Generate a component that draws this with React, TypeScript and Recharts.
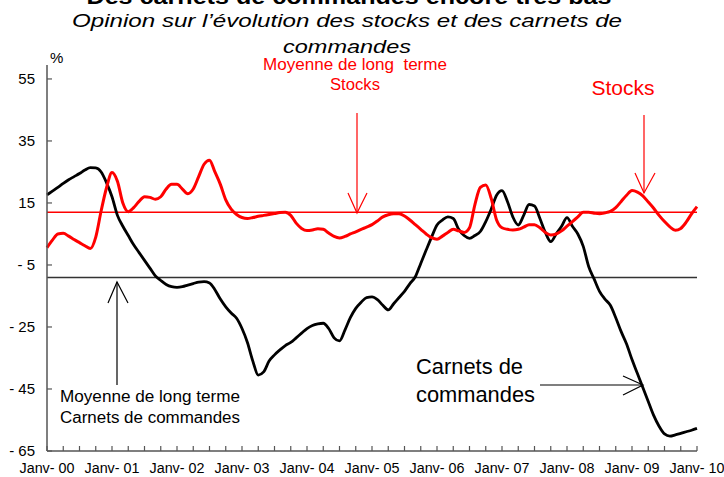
import React from 'react';
import { LineChart, Line, XAxis, YAxis, ReferenceLine } from 'recharts';

const yearLabels = ['Janv- 00', 'Janv- 01', 'Janv- 02', 'Janv- 03', 'Janv- 04', 'Janv- 05', 'Janv- 06', 'Janv- 07', 'Janv- 08', 'Janv- 09', 'Janv- 10'];

const carnets = [
  17.6, 18.8, 20, 21.3, 22.5, 23.5, 24.5, 25.6, 26.4, 26.3, 25, 21.5,
  17, 11, 7.5, 4.5, 1.5, -1, -3.5, -6, -8.5, -10, -11.3, -12,
  -12.2, -12, -11.5, -11, -10.5, -10.4, -10.8, -13, -16, -18.5, -20.5, -22.2,
  -25.5, -30, -36, -40.5, -39.5, -36, -34, -32.4, -31, -30, -28.5, -27,
  -25.5, -24.5, -24, -23.8, -25.5, -28.5, -29.5, -26, -22, -19, -17, -15.5,
  -15.3, -16.2, -18, -19.5, -17.5, -15.5, -13.5, -11, -8.8, -4.5, -0.2, 4,
  7.9, 9.5, 10.5, 10, 6.5, 4.5, 3.6, 4.5, 5.8, 9, 13, 17.5,
  19, 15.5, 10.5, 7.9, 11, 14.5, 14, 10, 5.5, 2.5, 5, 7.5,
  10.3, 7.5, 5, 1, -5.5, -9.5, -13.5, -16, -18, -22, -26.5, -30.5,
  -35.5, -40, -44.5, -49, -53.5, -57, -59.5, -60.2, -59.8, -59.3, -58.8, -58.3,
  -57.7,
];

const stocks = [
  0.6, 3, 5, 5.2, 4.3, 3.2, 2.2, 1.2, 0.3, 4, 12.5, 20,
  24.8, 22, 15, 12.2, 13.5, 15.5, 17, 16.8, 16.2, 17, 19.5, 21,
  21, 19.5, 18, 19.5, 23.5, 27.5, 28.8, 25, 21, 16, 13, 11.3,
  10.3, 10, 10.3, 10.7, 11, 11.3, 11.6, 11.9, 12, 11, 8.5, 6.8,
  6.1, 6.3, 6.7, 6.5, 5.3, 4.2, 3.7, 4.2, 5, 5.7, 6.5, 7.2,
  8, 9.2, 10.5, 11.2, 11.5, 11.5, 10.8, 9.5, 8, 6.5, 5, 3.8,
  3.3, 4.3, 5.5, 6.5, 6, 5.5, 7, 14.5, 20, 20.8, 16.5, 9.5,
  7, 6.5, 6.3, 6.5, 7.2, 8, 8, 7, 5.5, 4.7, 5, 6,
  7.5, 9, 10.5, 12, 12, 11.7, 11.5, 11.8, 12.3, 13.5, 15.5, 17.5,
  19, 18.5, 17.3, 15.3, 13.3, 11, 9, 7.3, 6.2, 6.8, 8.8, 11.5,
  13.8,
];

const moyenneStocks = 12;
const moyenneCarnets = -9;
const yTicks = [55, 35, 15, -5, -25, -45, -65];
const xTicks = Array.from({ length: 41 }, (_, i) => i * 3);

const data = carnets.map((c, i) => ({ m: i, carnets: c, stocks: stocks[i] }));

const FONT = '"Liberation Sans", Arial, sans-serif';
const AXIS = '#555';

const XTick = (props: any) => {
  const { x, y, payload } = props;
  const v = payload.value as number;
  const label = v % 12 === 0 ? yearLabels[v / 12] : null;
  return (
    <g>
      <line x1={x} x2={x} y1={y} y2={y - 5} stroke={AXIS} strokeWidth={1.2} />
      {label && (
        <text x={x} y={y + 22} textAnchor="middle" fontSize={14} fill="#000" fontFamily={FONT} textLength={55} lengthAdjust="spacingAndGlyphs">
          {label}
        </text>
      )}
    </g>
  );
};

const YTick = (props: any) => {
  const { x, y, payload } = props;
  const v = payload.value as number;
  const label = v < 0 ? '- ' + Math.abs(v) : String(v);
  return (
    <g>
      <line x1={x} x2={x + 5} y1={y} y2={y} stroke={AXIS} strokeWidth={1.2} />
      <text x={x - 12} y={y + 5} textAnchor="end" fontSize={15} fill="#000" fontFamily={FONT}>
        {label}
      </text>
    </g>
  );
};

export default function App() {
  return (
    <div style={{ position: 'absolute', left: 0, top: 0, width: 724, height: 477, background: '#fff', overflow: 'hidden' }}>
      <LineChart width={724} height={477} data={data} margin={{ top: 65, right: 27, left: 0, bottom: 4 }}>
        <XAxis
          dataKey="m"
          type="number"
          domain={[0, 120]}
          ticks={xTicks}
          interval={0}
          tickSize={0}
          tickMargin={0}
          tickLine={false}
          tick={<XTick />}
          height={22}
          axisLine={{ stroke: AXIS, strokeWidth: 1.5 }}
        />
        <YAxis
          type="number"
          domain={[-65, 59.5]}
          ticks={yTicks}
          interval={0}
          tickSize={0}
          tickMargin={0}
          tickLine={false}
          tick={<YTick />}
          width={47}
          axisLine={{ stroke: AXIS, strokeWidth: 1.5 }}
        />
        <ReferenceLine y={moyenneStocks} stroke="#ff0000" strokeWidth={1.5} />
        <ReferenceLine y={moyenneCarnets} stroke="#333" strokeWidth={1.5} />
        <Line type="monotone" dataKey="carnets" stroke="#000" strokeWidth={2.8} dot={false} isAnimationActive={false} />
        <Line type="monotone" dataKey="stocks" stroke="#ff0000" strokeWidth={3} dot={false} isAnimationActive={false} />
      </LineChart>
      <svg width={724} height={477} style={{ position: 'absolute', left: 0, top: 0, pointerEvents: 'none' }} fontFamily={FONT}>
        <text x={349} y={3.5} textAnchor="middle" fontSize={22} fontWeight="bold" fill="#000" textLength={525} lengthAdjust="spacingAndGlyphs">Des carnets de commandes encore très bas</text>
        <text x={347} y={26.7} textAnchor="middle" fontSize={18.8} fontStyle="italic" fill="#000" textLength={550} lengthAdjust="spacingAndGlyphs">Opinion sur l’évolution des stocks et des carnets de</text>
        <text x={347} y={53} textAnchor="middle" fontSize={18.8} fontStyle="italic" fill="#000" textLength={128} lengthAdjust="spacingAndGlyphs">commandes</text>
        <text x={50} y={63} fontSize={15} fill="#000">%</text>

        <text x={355} y={70} textAnchor="middle" fontSize={16} fill="#ff0000" style={{ whiteSpace: 'pre' }} textLength={184} lengthAdjust="spacingAndGlyphs">Moyenne de long  terme</text>
        <text x={355} y={90} textAnchor="middle" fontSize={16} fill="#ff0000" textLength={50} lengthAdjust="spacingAndGlyphs">Stocks</text>
        <line x1={357} y1={113} x2={357} y2={213} stroke="#ff0000" strokeWidth={1.2} />
        <polyline points="348,193 357,213 367,193" fill="none" stroke="#ff0000" strokeWidth={1.2} />

        <text x={623} y={95} textAnchor="middle" fontSize={20} fill="#ff0000" textLength={63} lengthAdjust="spacingAndGlyphs">Stocks</text>
        <line x1={644} y1={115} x2={644} y2={193} stroke="#ff0000" strokeWidth={1.2} />
        <polyline points="635,173 644,193 655,173" fill="none" stroke="#ff0000" strokeWidth={1.2} />

        <line x1={117} y1={385} x2={117} y2={282} stroke="#000" strokeWidth={1.2} />
        <polyline points="108,303 117,282 128,303" fill="none" stroke="#000" strokeWidth={1.2} />
        <text x={60} y={402} fontSize={16} fill="#000" textLength={180} lengthAdjust="spacingAndGlyphs">Moyenne de long terme</text>
        <text x={60} y={423} fontSize={16} fill="#000" textLength={180} lengthAdjust="spacingAndGlyphs">Carnets de commandes</text>

        <text x={416} y={374} fontSize={21.5} fill="#000" textLength={107} lengthAdjust="spacingAndGlyphs">Carnets de</text>
        <text x={416} y={402} fontSize={21.5} fill="#000" textLength={119} lengthAdjust="spacingAndGlyphs">commandes</text>
        <line x1={540} y1={385} x2={643} y2={385} stroke="#000" strokeWidth={1.2} />
        <polyline points="623,376 643,385 623,395" fill="none" stroke="#000" strokeWidth={1.2} />
      </svg>
    </div>
  );
}
